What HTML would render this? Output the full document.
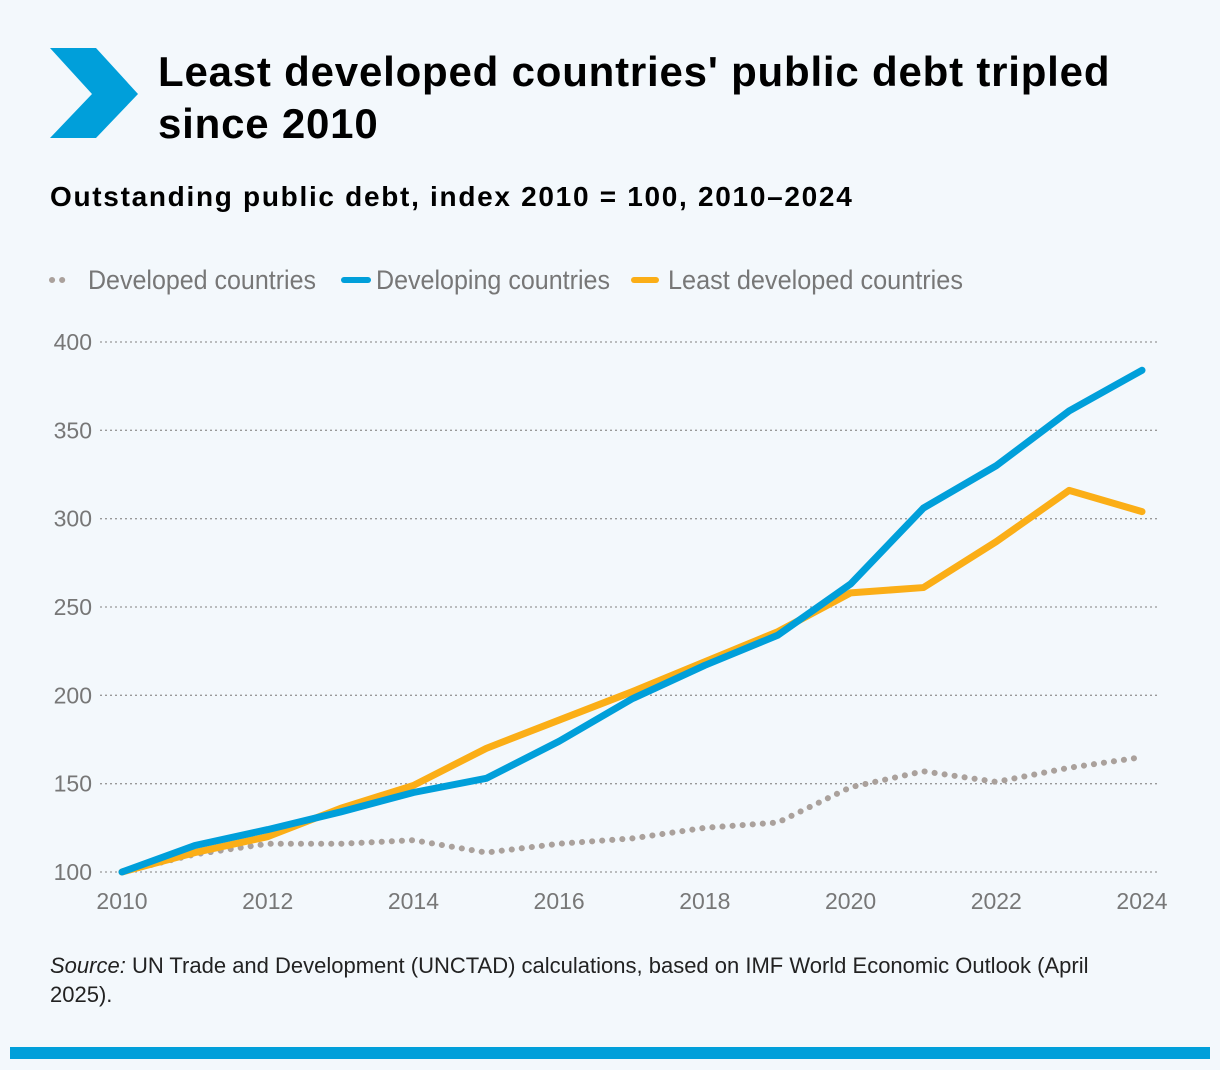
<!DOCTYPE html>
<html><head><meta charset="utf-8"><style>
body{margin:0;background:#f3f8fc;font-family:"Liberation Sans",sans-serif;}
#wrap{position:relative;width:1220px;height:1070px;background:#f3f8fc;overflow:hidden}
.t{position:absolute;margin:0}
</style></head><body>
<div id="wrap">
<svg class="t" style="left:50px;top:48px" width="90" height="92"><polygon points="0,0 46,0 88,46 46,90 0,90 42,46" fill="#009fda"/></svg>
<h1 class="t" style="left:158px;top:46px;font-size:42px;line-height:52px;font-weight:bold;color:#000;letter-spacing:0.8px">Least developed countries' public debt tripled<br>since 2010</h1>
<div class="t" style="left:50px;top:181px;font-size:28px;font-weight:bold;color:#000;letter-spacing:1.7px">Outstanding public debt, index 2010 = 100, 2010–2024</div>
<svg id="chart" class="t" style="left:0;top:0" width="1220" height="1070"></svg>
<div class="t" style="left:50px;top:951px;font-size:22px;line-height:29px;color:#222;width:1100px"><i>Source:</i> UN Trade and Development (UNCTAD) calculations, based on IMF World Economic Outlook (April 2025).</div>
<div class="t" style="left:10px;top:1047px;width:1200px;height:12px;background:#009fda"></div>
</div>
<script>
const years=[2010,2011,2012,2013,2014,2015,2016,2017,2018,2019,2020,2021,2022,2023,2024];
const developed=[100,110,116,116,118,111,116,119,125,128,148,157,151,159,165];
const developing=[100,115,124,134,145,153,174,198,217,234,263,306,330,361,384];
const ldc=[100,111,120,136,149,170,186,202,219,236,258,261,287,316,304];
const yTicks=[100,150,200,250,300,350,400];
const xTicks=[2010,2012,2014,2016,2018,2020,2022,2024];
const NS='http://www.w3.org/2000/svg';
const svg=document.getElementById('chart');
const X=v=>122+(v-2010)*(1020/14);
const Y=v=>872-(v-100)*(530/300);
function mk(t,a){const e=document.createElementNS(NS,t);for(const k in a)e.setAttribute(k,a[k]);svg.appendChild(e);return e;}
yTicks.forEach(v=>{
 const l=mk('line',{x1:100,x2:1160,y1:Y(v),y2:Y(v),stroke:'#999','stroke-width':1.3,'stroke-dasharray':'2,3'});
 
 
 const t=mk('text',{x:92,y:Y(v)+8,'text-anchor':'end','font-size':23,fill:'#777'});t.textContent=v;
 
 
});
xTicks.forEach(v=>{
 const t=mk('text',{x:X(v),y:909,'text-anchor':'middle','font-size':23,fill:'#777'});t.textContent=v;
 
 
});
function series(arr,color,name,dash){
 const p=mk('polyline',{points:arr.map((v,i)=>X(years[i])+','+Y(v)).join(' '),fill:'none',stroke:color,'stroke-width':dash?6:7,'stroke-linejoin':'round','stroke-linecap':'round'});
 if(dash)p.setAttribute('stroke-dasharray','0.1,10');
 
 
}
series(developed,'#aaa19c','line-developed',true);
series(ldc,'#fbae17','line-least-developed');
series(developing,'#009fda','line-developing');
const leg=[['Developed countries','#aaa19c',52,70,88,228,true],['Developing countries','#009fda',344,368,376,234,false],['Least developed countries','#fbae17',634,656,668,295,false]];
leg.forEach(([n,c,x1,x2,tx,tw,d])=>{
 const l=mk('line',{x1:x1,x2:x2,y1:280,y2:280,stroke:c,'stroke-width':6,'stroke-linecap':'round'});
 if(d){l.setAttribute('stroke-dasharray','0.1,10');}
 
 
 const t=mk('text',{x:tx,y:289,'font-size':27,fill:'#777',textLength:tw,lengthAdjust:'spacingAndGlyphs'});
 t.textContent=n;
 
 
});
</script>
</body></html>
